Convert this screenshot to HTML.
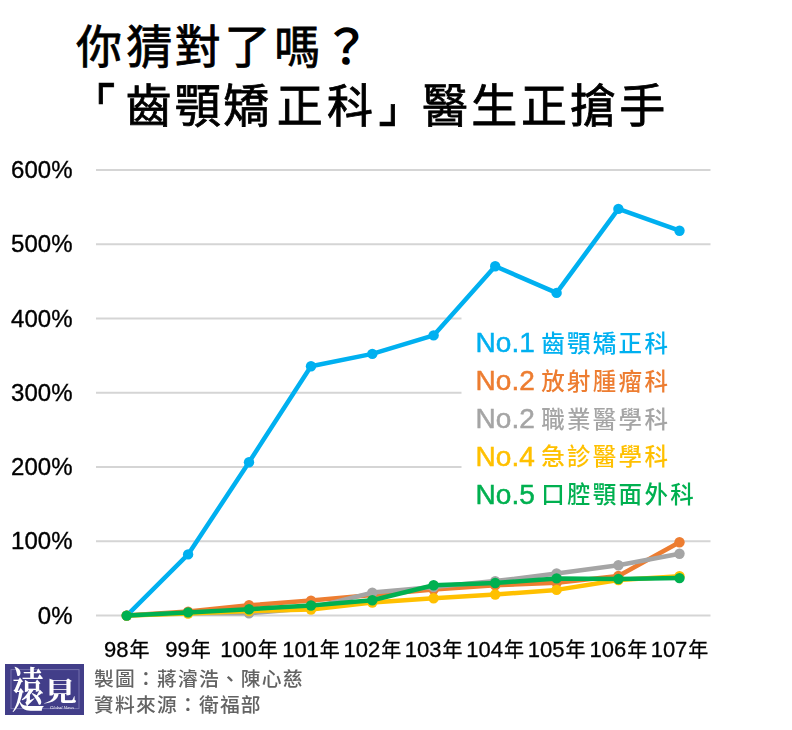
<!DOCTYPE html>
<html lang="zh-Hant">
<head>
<meta charset="utf-8">
<title>你猜對了嗎？「齒顎矯正科」醫生正搶手</title>
<style>
html,body{margin:0;padding:0;background:#fff;}
body{width:792px;height:730px;overflow:hidden;position:relative;}
svg{position:absolute;left:0;top:0;display:block;}
.title{font-family:"Liberation Sans","Noto Sans CJK TC",sans-serif;font-weight:400;font-size:46px;fill:#000;stroke:#000;stroke-width:0.8;}
.ax{font-family:"Liberation Sans",sans-serif;font-size:24px;fill:#000;stroke:#000;stroke-width:0.35;}
.xl{font-family:"Liberation Sans",sans-serif;font-size:22px;fill:#000;stroke:#000;stroke-width:0.3;}
.xl .n{font-family:"Liberation Sans","Noto Sans CJK TC",sans-serif;font-size:20px;}
.lgl{font-family:"Liberation Sans",sans-serif;font-size:28px;stroke-width:0.5;}
.lgc{font-family:"Liberation Sans","Noto Sans CJK TC",sans-serif;font-size:23.5px;letter-spacing:2.3px;font-weight:500;}
.ft{font-family:"Liberation Sans","Noto Sans CJK TC",sans-serif;font-size:19.8px;letter-spacing:1.2px;fill:#636363;font-weight:500;}
</style>
</head>
<body>
<svg width="792" height="730" viewBox="0 0 792 730">
<rect width="792" height="730" fill="#fff"/>

<text class="title" x="75.92 126.34 174.85 224.50 274.15" y="62.5">你猜對了嗎</text>
<text class="title" x="323.51" y="63.1" style="stroke-width:1.7">？</text>
<defs><filter id="dy" x="-20%" y="-20%" width="140%" height="140%"><feMorphology operator="dilate" radius="0 0.8"/></filter></defs>
<g filter="url(#dy)"><text class="title" transform="translate(69.2,108.9) scale(1,0.609)" x="0" y="0">「</text>
<text class="title" transform="translate(378.6,121.9) scale(1,0.655)" x="0" y="0">」</text></g>
<text class="title" x="125.48 174.75 223.37 276.65 327.06 422.12 471.33 521.10 570.07 619.28" y="121.9">齒顎矯正科醫生正搶手</text>
<g stroke="#d5d5d5" stroke-width="2" fill="none">
<line x1="96" y1="169.9" x2="710.5" y2="169.9"/>
<line x1="96" y1="244.2" x2="710.5" y2="244.2"/>
<line x1="96" y1="318.5" x2="461.5" y2="318.5"/>
<line x1="96" y1="392.8" x2="461.5" y2="392.8"/>
<line x1="96" y1="467.0" x2="461.5" y2="467.0"/>
<line x1="96" y1="541.3" x2="710.5" y2="541.3"/>
<line x1="96" y1="615.6" x2="710.5" y2="615.6"/>
</g>
<g class="ax" text-anchor="end">
<text x="72.5" y="177.9">600%</text>
<text x="72.5" y="252.2">500%</text>
<text x="72.5" y="326.5">400%</text>
<text x="72.5" y="400.8">300%</text>
<text x="72.5" y="475.0">200%</text>
<text x="72.5" y="549.3">100%</text>
<text x="72.5" y="623.6">0%</text>
</g>
<g class="xl" text-anchor="middle">
<text x="126.7" y="657.2">98<tspan class="n" dx="1">年</tspan></text>
<text x="188.1" y="657.2">99<tspan class="n" dx="1">年</tspan></text>
<text x="249.0" y="657.2">100<tspan class="n" dx="1">年</tspan></text>
<text x="311.0" y="657.2">101<tspan class="n" dx="1">年</tspan></text>
<text x="372.3" y="657.2">102<tspan class="n" dx="1">年</tspan></text>
<text x="433.6" y="657.2">103<tspan class="n" dx="1">年</tspan></text>
<text x="495.2" y="657.2">104<tspan class="n" dx="1">年</tspan></text>
<text x="556.6" y="657.2">105<tspan class="n" dx="1">年</tspan></text>
<text x="618.4" y="657.2">106<tspan class="n" dx="1">年</tspan></text>
<text x="679.5" y="657.2">107<tspan class="n" dx="1">年</tspan></text>
</g>
<polyline fill="none" stroke="#00b0f0" stroke-width="4.5" stroke-linejoin="round" stroke-linecap="round" points="126.7,615.6 188.1,554.4 249.0,462.2 311.0,366.2 372.3,353.9 433.6,335.4 495.2,266.2 556.6,292.9 618.4,208.9 679.5,230.7"/>
<g fill="#00b0f0"><circle cx="126.7" cy="615.6" r="5.2"/><circle cx="188.1" cy="554.4" r="5.2"/><circle cx="249.0" cy="462.2" r="5.2"/><circle cx="311.0" cy="366.2" r="5.2"/><circle cx="372.3" cy="353.9" r="5.2"/><circle cx="433.6" cy="335.4" r="5.2"/><circle cx="495.2" cy="266.2" r="5.2"/><circle cx="556.6" cy="292.9" r="5.2"/><circle cx="618.4" cy="208.9" r="5.2"/><circle cx="679.5" cy="230.7" r="5.2"/></g>
<polyline fill="none" stroke="#ed7d31" stroke-width="4.5" stroke-linejoin="round" stroke-linecap="round" points="126.7,615.6 188.1,611.6 249.0,605.3 311.0,600.6 372.3,595.1 433.6,589.5 495.2,585.3 556.6,582.8 618.4,576.0 679.5,542.2"/>
<g fill="#ed7d31"><circle cx="126.7" cy="615.6" r="5.2"/><circle cx="188.1" cy="611.6" r="5.2"/><circle cx="249.0" cy="605.3" r="5.2"/><circle cx="311.0" cy="600.6" r="5.2"/><circle cx="372.3" cy="595.1" r="5.2"/><circle cx="433.6" cy="589.5" r="5.2"/><circle cx="495.2" cy="585.3" r="5.2"/><circle cx="556.6" cy="582.8" r="5.2"/><circle cx="618.4" cy="576.0" r="5.2"/><circle cx="679.5" cy="542.2" r="5.2"/></g>
<polyline fill="none" stroke="#a5a5a5" stroke-width="4.5" stroke-linejoin="round" stroke-linecap="round" points="126.7,615.6 188.1,613.0 249.0,613.3 311.0,608.0 372.3,592.6 433.6,587.0 495.2,581.1 556.6,573.5 618.4,565.3 679.5,553.8"/>
<g fill="#a5a5a5"><circle cx="126.7" cy="615.6" r="5.2"/><circle cx="188.1" cy="613.0" r="5.2"/><circle cx="249.0" cy="613.3" r="5.2"/><circle cx="311.0" cy="608.0" r="5.2"/><circle cx="372.3" cy="592.6" r="5.2"/><circle cx="433.6" cy="587.0" r="5.2"/><circle cx="495.2" cy="581.1" r="5.2"/><circle cx="556.6" cy="573.5" r="5.2"/><circle cx="618.4" cy="565.3" r="5.2"/><circle cx="679.5" cy="553.8" r="5.2"/></g>
<polyline fill="none" stroke="#ffc000" stroke-width="4.5" stroke-linejoin="round" stroke-linecap="round" points="126.7,615.6 188.1,613.5 249.0,611.0 311.0,609.6 372.3,602.5 433.6,598.2 495.2,594.5 556.6,589.9 618.4,580.0 679.5,576.3"/>
<g fill="#ffc000"><circle cx="126.7" cy="615.6" r="5.2"/><circle cx="188.1" cy="613.5" r="5.2"/><circle cx="249.0" cy="611.0" r="5.2"/><circle cx="311.0" cy="609.6" r="5.2"/><circle cx="372.3" cy="602.5" r="5.2"/><circle cx="433.6" cy="598.2" r="5.2"/><circle cx="495.2" cy="594.5" r="5.2"/><circle cx="556.6" cy="589.9" r="5.2"/><circle cx="618.4" cy="580.0" r="5.2"/><circle cx="679.5" cy="576.3" r="5.2"/></g>
<polyline fill="none" stroke="#00b050" stroke-width="4.5" stroke-linejoin="round" stroke-linecap="round" points="126.7,615.6 188.1,612.4 249.0,609.2 311.0,605.5 372.3,600.2 433.6,585.2 495.2,583.0 556.6,578.4 618.4,579.0 679.5,578.1"/>
<g fill="#00b050"><circle cx="126.7" cy="615.6" r="5.2"/><circle cx="188.1" cy="612.4" r="5.2"/><circle cx="249.0" cy="609.2" r="5.2"/><circle cx="311.0" cy="605.5" r="5.2"/><circle cx="372.3" cy="600.2" r="5.2"/><circle cx="433.6" cy="585.2" r="5.2"/><circle cx="495.2" cy="583.0" r="5.2"/><circle cx="556.6" cy="578.4" r="5.2"/><circle cx="618.4" cy="579.0" r="5.2"/><circle cx="679.5" cy="578.1" r="5.2"/></g>
<text class="lgl" x="475.6" y="352.2" fill="#00b0f0" stroke="#00b0f0">No.1</text>
<text class="lgc" x="541.2" y="351.7" fill="#00b0f0">齒顎矯正科</text>
<text class="lgl" x="475.6" y="390.1" fill="#ed7d31" stroke="#ed7d31">No.2</text>
<text class="lgc" x="541.2" y="389.6" fill="#ed7d31">放射腫瘤科</text>
<text class="lgl" x="475.6" y="428.0" fill="#a5a5a5" stroke="#a5a5a5">No.2</text>
<text class="lgc" x="541.2" y="427.5" fill="#a5a5a5">職業醫學科</text>
<text class="lgl" x="475.6" y="465.9" fill="#ffc000" stroke="#ffc000">No.4</text>
<text class="lgc" x="541.2" y="465.4" fill="#ffc000">急診醫學科</text>
<text class="lgl" x="475.6" y="503.8" fill="#00b050" stroke="#00b050">No.5</text>
<text class="lgc" x="541.2" y="503.3" fill="#00b050">口腔顎面外科</text>
<rect x="5" y="664" width="79" height="51" fill="#423e89"/>
<rect x="11" y="669.6" width="68" height="39" fill="none" stroke="#7471ad" stroke-width="1"/>
<text transform="translate(12,707) scale(0.9,1.3)" font-family="Liberation Serif, Noto Serif CJK SC, serif" font-weight="700" font-size="36" fill="#fff">遠</text>
<text transform="translate(43,700.5) scale(1,0.78)" font-family="Liberation Serif, Noto Serif CJK SC, serif" font-weight="700" font-size="34" fill="#fff">見</text>
<text x="50" y="709" font-family="Liberation Serif, serif" font-style="italic" font-size="4.5" fill="#fff">Global Views</text>
<text class="ft" x="94.0" y="685.7">製圖：蔣濬浩、陳心慈</text>
<text class="ft" x="94.0" y="711.9">資料來源：衛福部</text>
</svg>
</body>
</html>
